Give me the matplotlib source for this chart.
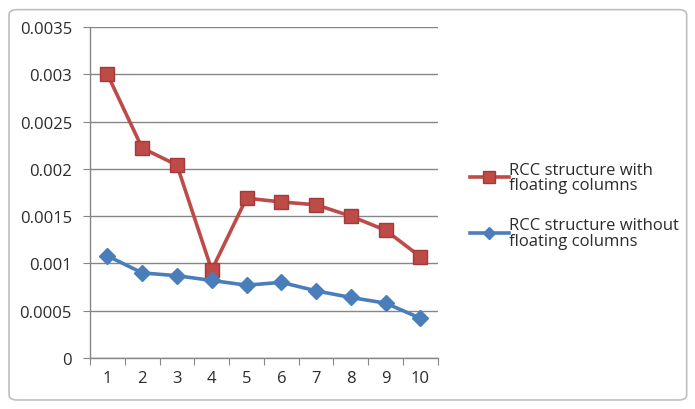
import numpy as np
import matplotlib
matplotlib.use("Agg")
import matplotlib.pyplot as plt
from matplotlib.patches import FancyBboxPatch

plt.rcParams['font.family'] = ['Open Sans', 'DejaVu Sans']

# Storey number vs. value for the two RCC models
storeys = [1, 2, 3, 4, 5, 6, 7, 8, 9, 10]
with_floating = [0.00300, 0.00222, 0.00204, 0.00093, 0.00169,
                 0.00165, 0.00162, 0.00150, 0.00135, 0.00107]
without_floating = [0.00108, 0.00090, 0.00087, 0.00082, 0.00077,
                    0.00080, 0.00071, 0.00064, 0.00058, 0.00042]
y_ticks = [0, 0.0005, 0.001, 0.0015, 0.002, 0.0025, 0.003, 0.0035]
y_labels = ["0", "0.0005", "0.001", "0.0015", "0.002", "0.0025", "0.003", "0.0035"]

red = "#BE4B48"
blue = "#4A7EBB"
grey = "#868686"

fig = plt.figure(figsize=(6.95, 4.1), dpi=100)

# rounded chart-area frame
frame = FancyBboxPatch((0.013, 0.022), 0.975, 0.952,
                       boxstyle="round,pad=0,rounding_size=0.012",
                       transform=fig.transFigure, fill=False,
                       edgecolor="#BFBFBF", linewidth=1.2)
fig.patches.append(frame)

ax = fig.add_axes([0.1295, 0.1244, 0.5005, 0.8073])

ax.plot(storeys, with_floating, color=red, linewidth=2.6, marker="s",
        markersize=10, markerfacecolor=red, markeredgecolor="#A33B38",
        label="RCC structure with\nfloating columns", zorder=3)
ax.plot(storeys, without_floating, color=blue, linewidth=2.6, marker="D",
        markersize=8, markerfacecolor=blue, markeredgecolor=blue,
        label="RCC structure without\nfloating columns", zorder=3)

ax.set_xlim(0.5, 10.5)
ax.set_ylim(0, 0.0035)

ax.set_yticks(y_ticks)
ax.set_yticklabels(y_labels)
ax.yaxis.grid(True, color=grey, linewidth=1.0)
ax.set_axisbelow(True)

# category ticks sit between the labels
ax.set_xticks(np.arange(0.5, 11, 1))
ax.set_xticklabels([])
ax.set_xticks(storeys, minor=True)
ax.set_xticklabels([str(s) for s in storeys], minor=True)
ax.tick_params(axis="x", which="major", length=5, color=grey, direction="out")
ax.tick_params(axis="x", which="minor", length=0, pad=9)
ax.tick_params(axis="y", length=5, color=grey, direction="out", pad=8)
ax.tick_params(which="both", labelsize=12, labelcolor="#2B2B2B")

for side in ["top", "right"]:
    ax.spines[side].set_visible(False)
for side in ["left", "bottom"]:
    ax.spines[side].set_color(grey)
    ax.spines[side].set_linewidth(1.0)

leg = fig.legend(loc="upper left", bbox_to_anchor=(0.655, 0.64),
                 frameon=False, fontsize=12, handlelength=2.3,
                 handletextpad=0.05, labelspacing=1.45, markerscale=0.8)
for t in leg.get_texts():
    t.set_color("#2B2B2B")
    t.set_linespacing(0.95)

fig.savefig("out.png", dpi=100)
